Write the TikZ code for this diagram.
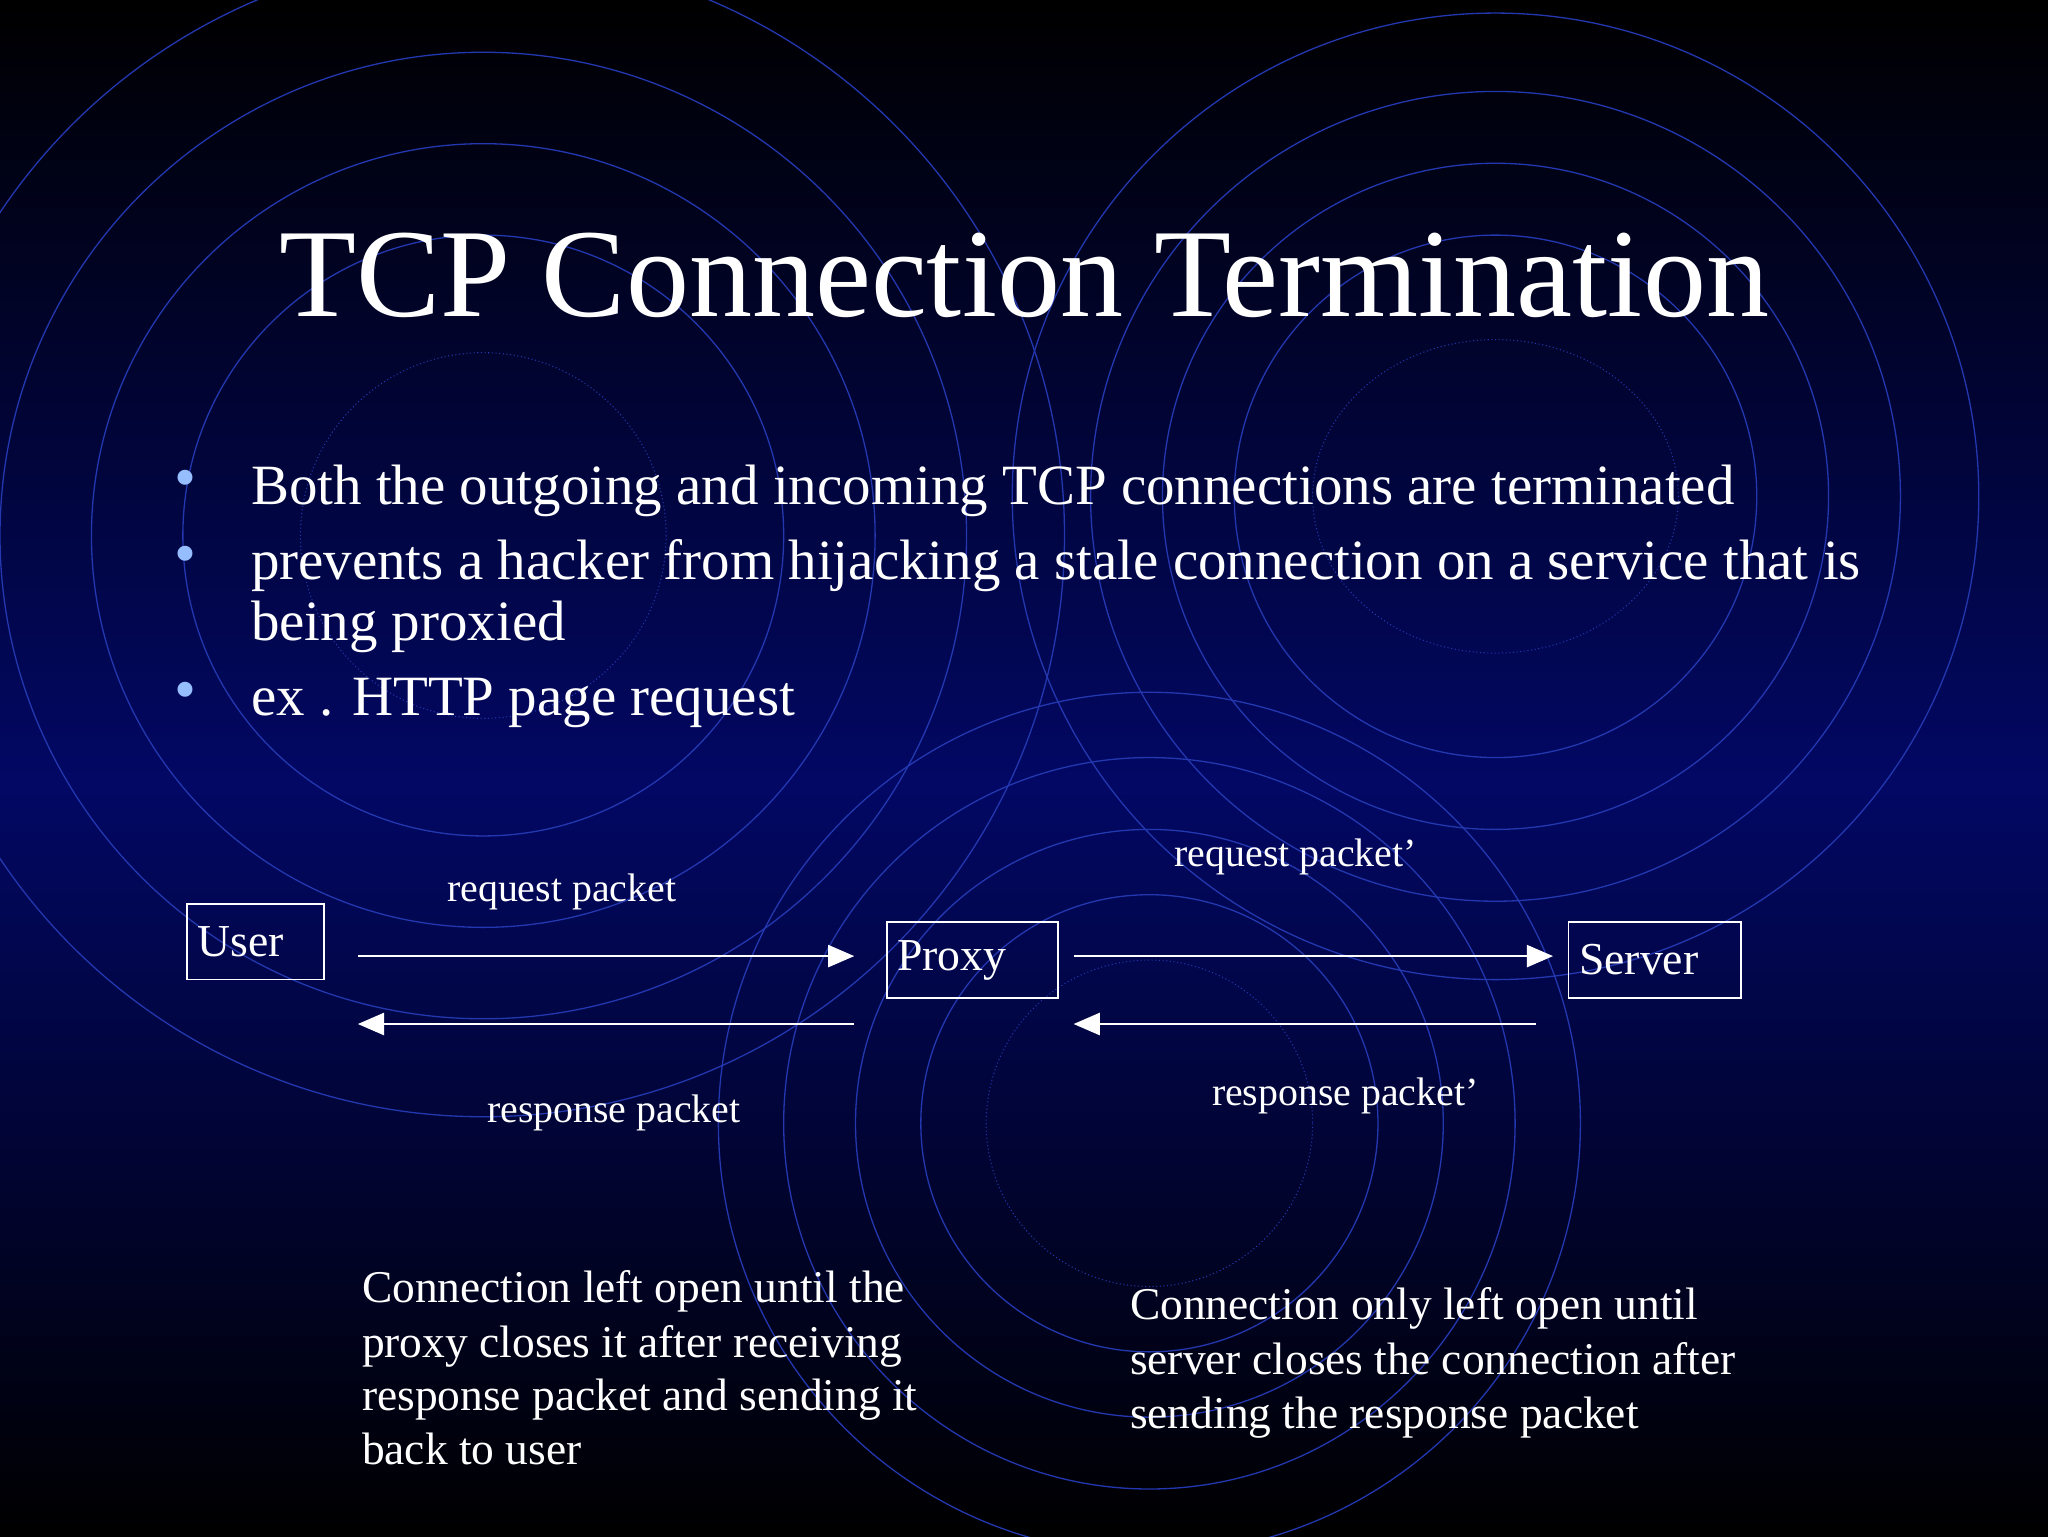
\documentclass[tikz,border=0pt]{standalone}
\usepackage{fontspec}
\setmainfont{Liberation Serif}
\usetikzlibrary{arrows.meta}
\definecolor{bgblue}{RGB}{2,8,100}
\definecolor{ring}{RGB}{35,55,175}
\definecolor{bul}{RGB}{150,190,255}
\tikzset{
  ringc/.style={draw=ring,line width=1pt},
  ringd/.style={draw=ring,line width=0.8pt,dotted},
  box/.style={draw=white,line width=1.2pt,text=white,font=\fontsize{35}{38}\selectfont,inner sep=0pt,text width=#1,align=left},
  lab/.style={text=white,font=\fontsize{30.5}{34}\selectfont,inner sep=0pt},
  arr/.style={white,line width=1.3pt,-{Triangle[length=20pt,width=17pt]}},
  txt/.style={text=white,anchor=base west,inner sep=0pt,font=\fontsize{34.8}{42}\selectfont},
  blt/.style={text=white,anchor=base west,inner sep=0pt,font=\fontsize{43.6}{46}\selectfont}
}
\begin{document}
\begin{tikzpicture}[x=1pt,y=-1pt]
\useasboundingbox (0,0) rectangle (1568,1176);
\shade[top color=black,bottom color=bgblue] (0,0) rectangle (1568,600);
\shade[top color=bgblue,bottom color=black] (0,600) rectangle (1568,1176);
% rings
\foreach \r in {230,300,370,445} \draw[ringc] (370,410) circle (\r);
\draw[ringd] (370,410) circle (140);
\foreach \r in {200,255,310,370} \draw[ringc] (1145,380) circle (\r);
\draw[ringd] (1145,380) ellipse (140 and 120);
\foreach \r in {175,225,280,330} \draw[ringc] (880,860) circle (\r);
\draw[ringd] (880,860) circle (125);
% title
\node[text=white,anchor=base,inner sep=0pt,font=\fontsize{96.5}{104}\selectfont] (title) at (784,242) {TCP Connection Termination};
% bullets
\foreach \y [count=\i] in {386,444,548} \node[text=bul,font=\fontsize{48}{48}\selectfont,anchor=base,inner sep=0pt] (b\i) at (142,\y-4) {•};
\node[blt] (t1) at (192,386) {Both the outgoing and incoming TCP connections are terminated};
\node[blt] (t2) at (192,444) {prevents a hacker from hijacking a stale connection on a service that is};
\node[blt] (t3) at (192,490) {being proxied};
\node[blt] (t4) at (192,548) {ex . HTTP page request};
% boxes
\node[box=89pt,minimum width=105pt,minimum height=58pt] (user) at (195.5,721) {User};
\node[box=115pt,minimum width=131pt,minimum height=58pt] (proxy) at (744.5,735) {Proxy};
\node[box=116pt,minimum width=132pt,minimum height=58pt] (server) at (1267,735) {Server};
\coordinate (a1) at (274,732); \coordinate (a2) at (654,732);
\coordinate (a3) at (654,784); \coordinate (a4) at (274,784);
\coordinate (a5) at (822,732); \coordinate (a6) at (1189,732);
\coordinate (a7) at (1176,784); \coordinate (a8) at (822,784);
\draw[arr] (a1) -- (a2);
\draw[arr] (a3) -- (a4);
\draw[arr] (a5) -- (a6);
\draw[arr] (a7) -- (a8);
\node[lab] (l1) at (430,683) {request packet};
\node[lab] (l2) at (470,852) {response packet};
\node[lab] (l3) at (992,656) {request packet’};
\node[lab] (l4) at (1030,839) {response packet’};
% bottom texts
\node[txt] (c1) at (277,997) {Connection left open until the};
\node[txt] (c2) at (277,1039) {proxy closes it after receiving};
\node[txt] (c3) at (277,1080) {response packet and sending it};
\node[txt] (c4) at (277,1121) {back to user};
\node[txt] (d1) at (865,1010) {Connection only left open until};
\node[txt] (d2) at (865,1052) {server closes the connection after};
\node[txt] (d3) at (865,1094) {sending the response packet};
\end{tikzpicture}
\end{document}
